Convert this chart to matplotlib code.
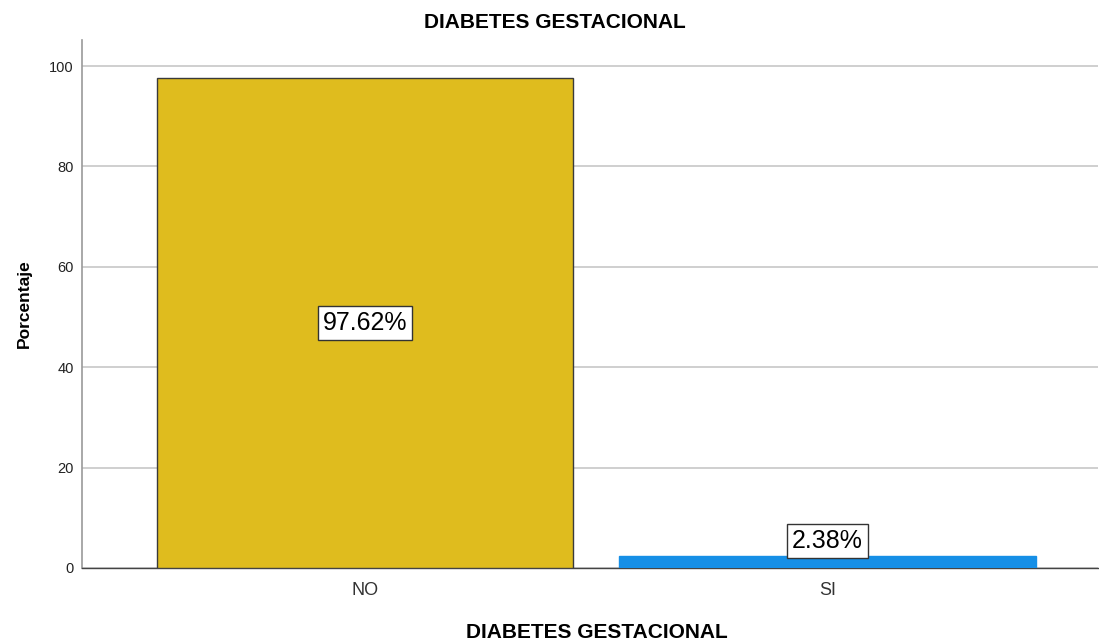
import matplotlib
matplotlib.use("Agg")
import matplotlib.pyplot as plt

plt.rcParams["font.family"] = ["Liberation Sans", "DejaVu Sans"]

categories = ["NO", "SI"]
percentages = [97.62, 2.38]
bar_colors = ["#DFBC1E", "#168FE6"]
y_ticks = [0, 20, 40, 60, 80, 100]


def main():
    fig = plt.figure(figsize=(10.99, 6.42), dpi=100)
    ax = fig.add_axes([0.0746, 0.1153, 0.9246, 0.8224])

    positions = list(range(len(categories)))
    bars = ax.bar(positions, percentages, width=0.9, color=bar_colors,
                  edgecolor="#3a3a3a", linewidth=1.0, zorder=3)
    # the thin SI bar shows no dark outline
    bars[1].set_edgecolor(bar_colors[1])

    label_box = dict(facecolor="white", edgecolor="#333333",
                     boxstyle="square,pad=0.2", linewidth=1.0)
    # NO label sits mid-bar, SI label sits on top of its bar
    ax.text(positions[0], percentages[0] / 2, f"{percentages[0]:.2f}%",
            ha="center", va="center", fontsize=18, zorder=5, bbox=label_box)
    ax.text(positions[1], percentages[1] + 0.7, f"{percentages[1]:.2f}%",
            ha="center", va="bottom", fontsize=18, zorder=5, bbox=label_box)

    ax.set_xlim(-0.612, 1.585)
    ax.set_ylim(0, 105.2)
    ax.set_yticks(y_ticks)
    ax.set_xticks(positions)
    ax.set_xticklabels(categories, fontsize=13, color="#333333")
    ax.tick_params(axis="y", length=0, labelsize=10.5, pad=6, colors="#222222")
    ax.tick_params(axis="x", length=0, pad=10)

    ax.grid(axis="y", color="#cccccc", linewidth=1.3, zorder=0)
    for side in ("top", "right"):
        ax.spines[side].set_visible(False)
    ax.spines["left"].set_color("#999999")
    ax.spines["left"].set_linewidth(1.2)
    ax.spines["bottom"].set_color("#444444")
    ax.spines["bottom"].set_linewidth(1.0)

    fig.text(0.505, 1 - 23 / 642, "DIABETES GESTACIONAL", fontsize=15,
             fontweight="bold", ha="center", va="center")
    fig.text(0.543, 10 / 642, "DIABETES GESTACIONAL", fontsize=15,
             fontweight="bold", ha="center", va="center")
    ax.set_ylabel("Porcentaje", fontsize=12.5, fontweight="bold", labelpad=12)

    fig.savefig("out.png", dpi=100)


if __name__ == "__main__":
    main()
